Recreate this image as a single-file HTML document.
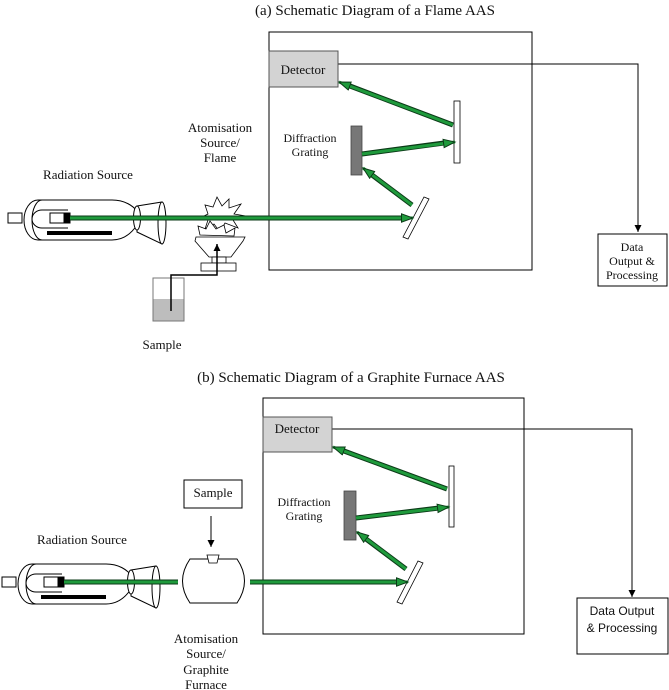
<!DOCTYPE html>
<html><head><meta charset="utf-8"><style>
html,body{margin:0;padding:0;background:#fff;}
svg{display:block;}
text{font-family:"Liberation Serif",serif;fill:#111;}
.s{font-family:"Liberation Sans",sans-serif;}
</style></head><body>
<svg width="669" height="690" viewBox="0 0 669 690" xmlns="http://www.w3.org/2000/svg">
<defs>
<marker id="ga" markerWidth="14" markerHeight="12" refX="12" refY="5" orient="auto" markerUnits="userSpaceOnUse">
<path d="M0.5,0.8 L12,5 L0.5,9.2 Z" fill="#1f9a3c" stroke="#0b3a17" stroke-width="1"/>
</marker>
<marker id="ka" markerWidth="8" markerHeight="8" refX="7" refY="4" orient="auto" markerUnits="userSpaceOnUse">
<path d="M0,0.5 L7,4 L0,7.5 Z" fill="#000"/>
</marker>
<g id="lamp" fill="#fff" stroke="#000" stroke-width="1">
<rect x="8" y="213" width="14" height="10"/>
<path d="M38,200 H112 C125,200 133,206 137,211 V225 C133,231 125,240 112,240 H38 A14,20 0 0 1 38,200 Z"/>
<path d="M42,200 A10,20 0 0 0 42,240" fill="none"/>
<path d="M137,206 L162,202 L162,244 L137,232 Z"/>
<ellipse cx="137" cy="218" rx="3.5" ry="12"/>
<ellipse cx="162" cy="223" rx="4" ry="21"/>
<path d="M68,210 H42 A10,9 0 0 0 42,228 H68" fill="none"/>
<rect x="50" y="213" width="20" height="10"/>
<rect x="64" y="213" width="6" height="10" fill="#000"/>
<rect x="47" y="231" width="65" height="4" fill="#000" stroke="none"/>
</g>
</defs>

<!-- ===== Panel (a) ===== -->
<text x="375" y="15" font-size="15" text-anchor="middle">(a) Schematic Diagram of a Flame AAS</text>
<rect x="269" y="32" width="263" height="238" fill="none" stroke="#000" stroke-width="1"/>
<polyline points="338,64 638,64 638,232" fill="none" stroke="#000" stroke-width="1" marker-end="url(#ka)"/>
<rect x="269" y="51" width="69" height="36" fill="#d3d3d3" stroke="#555" stroke-width="1"/>
<text x="303" y="74" font-size="13" text-anchor="middle">Detector</text>
<rect x="598" y="234" width="69" height="52" fill="#fff" stroke="#000" stroke-width="1"/>
<text x="632" y="251" font-size="12" text-anchor="middle">Data</text>
<text x="632" y="265" font-size="12" text-anchor="middle">Output &amp;</text>
<text x="632" y="279" font-size="12" text-anchor="middle">Processing</text>
<rect x="454" y="101" width="6" height="62" fill="#fff" stroke="#000" stroke-width="0.8"/>
<rect x="351" y="126" width="11" height="49" fill="#777" stroke="#444" stroke-width="0.8"/>
<path d="M403,237 L424,197 L429,199 L408,239 Z" fill="#fff" stroke="#000" stroke-width="0.8"/>
<text x="310" y="142" font-size="12" text-anchor="middle">Diffraction</text>
<text x="310" y="156" font-size="12" text-anchor="middle">Grating</text>
<text x="220" y="132" font-size="13" text-anchor="middle">Atomisation</text>
<text x="220" y="147" font-size="13" text-anchor="middle">Source/</text>
<text x="220" y="162" font-size="13" text-anchor="middle">Flame</text>
<text x="88" y="179" font-size="13" text-anchor="middle">Radiation Source</text>
<text x="162" y="349" font-size="13" text-anchor="middle">Sample</text>
<use href="#lamp"/>
<!-- flame -->
<g fill="#fff" stroke="#000" stroke-width="0.8">
<polygon points="208,214 205,205 213,207 217,197 222,206 229,199 229,208 241,204 234,214 246,216 233,220 238,228 225,223 220,232 214,224 205,229 208,220 198,219"/>
<polygon points="200,235 198,226 206,229 210,221 216,229 224,225 226,233 235,228 234,236"/>
<path d="M196,237 L245,237 L243,241 L231,257 L209,257 L195,241 Z"/>
<rect x="212" y="257" width="14" height="6"/>
<rect x="201" y="263" width="35" height="8"/>
</g>
<!-- beaker -->
<rect x="153" y="299" width="31" height="22" fill="#bdbdbd" stroke="none"/>
<rect x="153" y="278" width="31" height="43" fill="none" stroke="#777" stroke-width="1"/>
<polyline points="171,311 171,275 217,275 217,244" fill="none" stroke="#000" stroke-width="1.5" marker-end="url(#ka)"/>
<!-- beams a -->
<g fill="none" stroke-linecap="butt">
<g stroke="#0b3a17" stroke-width="5">
<line x1="70" y1="218" x2="403" y2="218"/>
<line x1="412" y1="205" x2="372" y2="175"/>
<line x1="362" y1="154" x2="444" y2="143"/>
<line x1="453" y1="125" x2="350" y2="86"/>
</g>
<g stroke="#1f9a3c" stroke-width="3">
<line x1="70" y1="218" x2="413" y2="218" marker-end="url(#ga)"/>
<line x1="412" y1="205" x2="363" y2="168" marker-end="url(#ga)"/>
<line x1="362" y1="154" x2="455" y2="142" marker-end="url(#ga)"/>
<line x1="453" y1="125" x2="339" y2="82" marker-end="url(#ga)"/>
</g>
</g>

<!-- ===== Panel (b) ===== -->
<text x="351" y="382" font-size="15" text-anchor="middle">(b) Schematic Diagram of a Graphite Furnace AAS</text>
<rect x="263" y="398" width="261" height="236" fill="none" stroke="#000" stroke-width="1"/>
<polyline points="332,429 632,429 632,597" fill="none" stroke="#000" stroke-width="1" marker-end="url(#ka)"/>
<rect x="263" y="417" width="69" height="35" fill="#d3d3d3" stroke="#555" stroke-width="1"/>
<text x="297" y="433" font-size="13" text-anchor="middle">Detector</text>
<rect x="577" y="598" width="91" height="56" fill="#fff" stroke="#000" stroke-width="1"/>
<text class="s" x="622" y="615" font-size="12" text-anchor="middle">Data Output</text>
<text class="s" x="622" y="632" font-size="12" text-anchor="middle">&amp; Processing</text>
<rect x="449" y="466" width="5" height="61" fill="#fff" stroke="#000" stroke-width="0.8"/>
<rect x="344" y="491" width="12" height="49" fill="#777" stroke="#444" stroke-width="0.8"/>
<path d="M397,602 L418,561 L423,563 L402,604 Z" fill="#fff" stroke="#000" stroke-width="0.8"/>
<text x="304" y="506" font-size="12" text-anchor="middle">Diffraction</text>
<text x="304" y="520" font-size="12" text-anchor="middle">Grating</text>
<rect x="184" y="480" width="58" height="28" fill="#fff" stroke="#000" stroke-width="1"/>
<text x="213" y="497" font-size="13" text-anchor="middle">Sample</text>
<line x1="211" y1="516" x2="211" y2="547" stroke="#000" stroke-width="1" marker-end="url(#ka)"/>
<text x="206" y="643" font-size="13" text-anchor="middle">Atomisation</text>
<text x="206" y="658" font-size="13" text-anchor="middle">Source/</text>
<text x="206" y="674" font-size="13" text-anchor="middle">Graphite</text>
<text x="206" y="689" font-size="13" text-anchor="middle">Furnace</text>
<text x="82" y="544" font-size="13" text-anchor="middle">Radiation Source</text>
<use href="#lamp" transform="translate(-6,364)"/>
<g fill="none">
<g stroke="#0b3a17" stroke-width="5">
<line x1="64" y1="582" x2="178" y2="582"/>
<line x1="250" y1="582" x2="398" y2="582"/>
<line x1="406" y1="569" x2="366" y2="539"/>
<line x1="356" y1="518" x2="439" y2="508"/>
<line x1="447" y1="489" x2="344" y2="451"/>
</g>
<g stroke="#1f9a3c" stroke-width="3">
<line x1="64" y1="582" x2="178" y2="582"/>
<line x1="250" y1="582" x2="408" y2="582" marker-end="url(#ga)"/>
<line x1="406" y1="569" x2="357" y2="532" marker-end="url(#ga)"/>
<line x1="356" y1="518" x2="449" y2="507" marker-end="url(#ga)"/>
<line x1="447" y1="489" x2="333" y2="447" marker-end="url(#ga)"/>
</g>
</g>
<path d="M190,559 H237 Q252,581 237,603 H190 Q175,581 190,559 Z" fill="#fff" stroke="#000" stroke-width="1"/>
<path d="M207,555 H219 L217,563 H209 Z" fill="#fff" stroke="#000" stroke-width="0.8"/>
</svg>
</body></html>
